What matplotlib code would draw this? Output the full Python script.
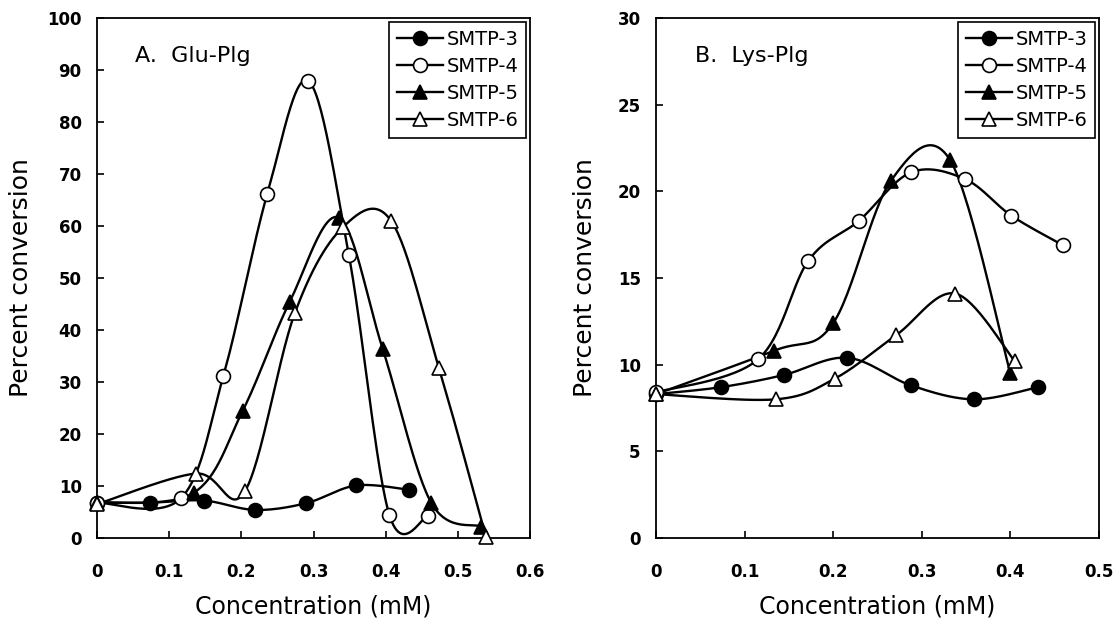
import numpy as np
import matplotlib
matplotlib.use("Agg")
import matplotlib.pyplot as plt
from matplotlib.lines import Line2D

plt.rcParams['font.family'] = ['DejaVu Sans']

# ---------------- data ----------------
series_names = ["SMTP-3", "SMTP-4", "SMTP-5", "SMTP-6"]

# Panel A: Glu-Plg
glu_s3_x = [0, 0.073, 0.148, 0.219, 0.290, 0.359, 0.432]
glu_s3_y = [6.8, 6.8, 7.2, 5.4, 6.7, 10.1, 9.3]
glu_s4_x = [0, 0.116, 0.175, 0.236, 0.293, 0.349, 0.405, 0.459]
glu_s4_y = [6.8, 7.6, 31.1, 66.2, 87.9, 54.4, 4.5, 4.3]
glu_s5_x = [0, 0.134, 0.202, 0.267, 0.335, 0.396, 0.463, 0.532]
glu_s5_y = [6.8, 8.7, 24.5, 45.4, 61.6, 36.3, 6.8, 2.2]
glu_s6_x = [0, 0.137, 0.205, 0.274, 0.341, 0.408, 0.474, 0.539]
glu_s6_y = [6.5, 12.4, 9.0, 43.2, 59.8, 60.9, 32.6, 0.2]

# Panel B: Lys-Plg
lys_s3_x = [0, 0.073, 0.144, 0.216, 0.288, 0.359, 0.431]
lys_s3_y = [8.3, 8.7, 9.4, 10.4, 8.8, 8.0, 8.7]
lys_s4_x = [0, 0.115, 0.172, 0.229, 0.288, 0.349, 0.401, 0.459]
lys_s4_y = [8.4, 10.3, 16.0, 18.3, 21.1, 20.7, 18.6, 16.9]
lys_s5_x = [0, 0.133, 0.200, 0.265, 0.332, 0.400]
lys_s5_y = [8.3, 10.8, 12.4, 20.6, 21.8, 9.5]
lys_s6_x = [0, 0.135, 0.202, 0.271, 0.338, 0.405]
lys_s6_y = [8.3, 8.0, 9.2, 11.7, 14.1, 10.2]

x_ticks_a = [0, 0.1, 0.2, 0.3, 0.4, 0.5, 0.6]
x_labels_a = ["0", "0.1", "0.2", "0.3", "0.4", "0.5", "0.6"]
y_ticks_a = [0, 10, 20, 30, 40, 50, 60, 70, 80, 90, 100]
x_ticks_b = [0, 0.1, 0.2, 0.3, 0.4, 0.5]
x_labels_b = ["0", "0.1", "0.2", "0.3", "0.4", "0.5"]
y_ticks_b = [0, 5, 10, 15, 20, 25, 30]

styles = [
    dict(marker='o', mfc='black'),
    dict(marker='o', mfc='white'),
    dict(marker='^', mfc='black'),
    dict(marker='^', mfc='white'),
]


def smooth(x, y, n=30):
    """Excel-like smoothed line (uniform Catmull-Rom as cubic Bezier)."""
    p = np.column_stack([x, y]).astype(float)
    pts = [p[0]]
    m = len(p)
    t = np.linspace(0, 1, n)[1:, None]
    for i in range(m - 1):
        p0 = p[i - 1] if i > 0 else p[i]
        p1 = p[i]
        p2 = p[i + 1]
        p3 = p[i + 2] if i + 2 < m else p[i + 1]
        b1 = p1 + (p2 - p0) / 6.0
        b2 = p2 - (p3 - p1) / 6.0
        seg = ((1 - t) ** 3) * p1 + 3 * ((1 - t) ** 2) * t * b1 + 3 * (1 - t) * t ** 2 * b2 + t ** 3 * p2
        pts.extend(seg)
    pts = np.array(pts)
    return pts[:, 0], pts[:, 1]


fig = plt.figure(figsize=(11.16, 6.23), dpi=100)
W, H = 1116, 623
ax_a = fig.add_axes([97 / W, 1 - 538 / H, 433 / W, 520 / H])
ax_b = fig.add_axes([656 / W, 1 - 538 / H, 443 / W, 520 / H])

lw = 1.7
ms = 10

panels = [
    (ax_a, [(glu_s3_x, glu_s3_y), (glu_s4_x, glu_s4_y), (glu_s5_x, glu_s5_y), (glu_s6_x, glu_s6_y)],
     (0, 0.6), (0, 100), x_ticks_a, x_labels_a, y_ticks_a, "A.  Glu-Plg", 10),
    (ax_b, [(lys_s3_x, lys_s3_y), (lys_s4_x, lys_s4_y), (lys_s5_x, lys_s5_y), (lys_s6_x, lys_s6_y)],
     (0, 0.5), (0, 30), x_ticks_b, x_labels_b, y_ticks_b, "B.  Lys-Plg", 15),
]

for ax, data, xl, yl, xt, xtl, yt, title, ylpad in panels:
    for (xs, ys), st in zip(data, styles):
        sx, sy = smooth(xs, ys)
        ax.plot(sx, sy, color='black', lw=lw, zorder=2, clip_on=False)
        ax.plot(xs, ys, linestyle='none', marker=st['marker'], mfc=st['mfc'],
                mec='black', mew=1.2, ms=ms, zorder=3, clip_on=False)
    ax.set_xlim(*xl)
    ax.set_ylim(*yl)
    ax.set_xticks(xt)
    ax.set_xticklabels(xtl)
    ax.set_yticks(yt)
    ax.tick_params(axis='both', direction='in', length=5, width=1.2, labelsize=12)
    ax.tick_params(axis='x', pad=18)
    ax.tick_params(axis='y', pad=11)
    for lab in ax.get_xticklabels() + ax.get_yticklabels():
        lab.set_fontweight('bold')
    for sp in ax.spines.values():
        sp.set_linewidth(1.3)
    ax.set_xlabel("Concentration (mM)", fontsize=17, labelpad=10)
    ax.set_ylabel("Percent conversion", fontsize=18, labelpad=ylpad)
    ax.text(0.088, 0.915, title, transform=ax.transAxes, fontsize=16,
            ha='left', va='baseline')
    handles = [Line2D([], [], color='black', lw=lw, marker=st['marker'], mfc=st['mfc'],
                      mec='black', mew=1.2, ms=ms) for st in styles]
    leg = ax.legend(handles, series_names, loc='upper right', fontsize=14,
                    handlelength=2.4, handletextpad=0.15, labelspacing=0.42,
                    borderpad=0.4, borderaxespad=0.2, fancybox=False,
                    framealpha=1, edgecolor='black')
    leg.get_frame().set_linewidth(1.2)

fig.savefig("out.png", dpi=100)
